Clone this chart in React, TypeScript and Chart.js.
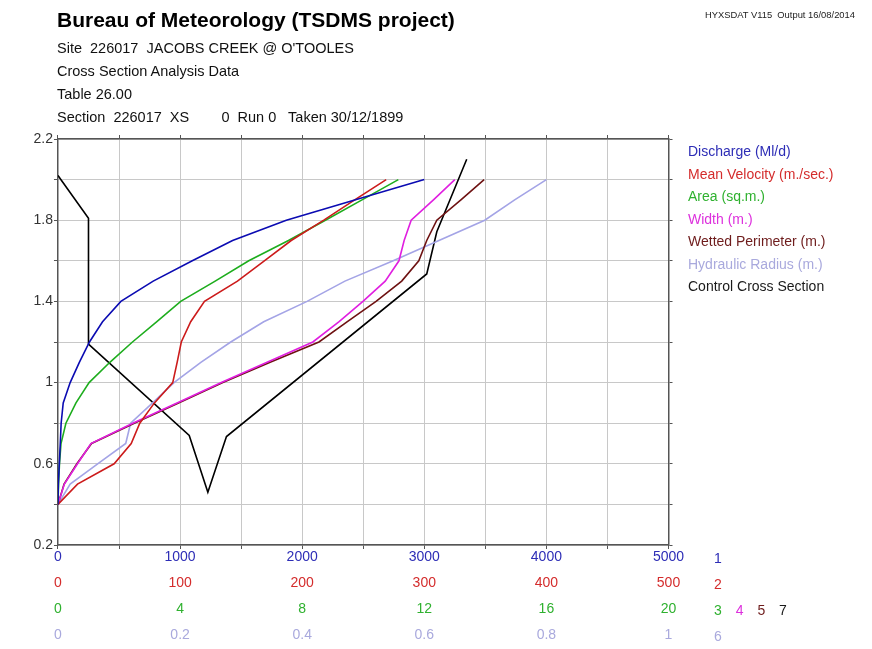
import React, { useEffect, useRef } from "react";
import { Chart, registerables } from "chart.js";

Chart.register(...registerables);

// Gauge height (stage, m) at which each rating quantity is tabulated
const stage = [0.4, 0.5, 0.6, 0.7, 0.8, 0.9, 1.0, 1.1, 1.2, 1.3, 1.4, 1.5, 1.6, 1.7, 1.8, 1.9, 2.0];

// 1 Discharge (Ml/d)
const discharge = [0, 3, 11, 19, 26, 43, 100, 175, 258, 365, 515, 780, 1100, 1430, 1870, 2430, 3000];
// 2 Mean Velocity (scale 0-500)
const meanVelocity = [0, 16, 46, 60, 67, 79, 94, 97.6, 101, 108.7, 120, 147, 169, 191, 217.7, 243, 268.8];
// 3 Area (sq.m.)
const area = [0, 0.02, 0.05, 0.1, 0.26, 0.59, 1.02, 1.7, 2.44, 3.24, 4.02, 5.15, 6.25, 7.55, 8.76, 9.96, 11.15];
// 4 Width (m.)
const widthM = [0, 0.21, 0.64, 1.08, 2.45, 3.9, 5.35, 6.85, 8.35, 9.21, 9.99, 10.72, 11.17, 11.34, 11.57, 12.3, 13.0];
// 5 Wetted Perimeter (m.)
const wettedPerimeter = [0, 0.2, 0.62, 1.1, 2.5, 3.95, 5.4, 6.95, 8.55, 9.48, 10.42, 11.26, 11.82, 12.08, 12.41, 13.2, 13.96];
// 6 Hydraulic Radius (m.)
const hydraulicRadius = [0, 0.02, 0.065, 0.111, 0.119, 0.155, 0.19, 0.234, 0.283, 0.337, 0.408, 0.47, 0.549, 0.624, 0.699, 0.748, 0.8];
// 7 Control Cross Section (chainage on scale 3, level on stage axis)
const controlChainage = [0, 1.0, 1.0, 4.3, 4.91, 5.52, 12.08, 12.41, 13.39];
const controlLevel = [2.02, 1.81, 1.19, 0.74, 0.46, 0.734, 1.535, 1.743, 2.1];

// Axis tick labels
const dischargeTicks = [0, 1000, 2000, 3000, 4000, 5000];
const velocityTicks = [0, 100, 200, 300, 400, 500];
const areaTicks = [0, 4, 8, 12, 16, 20];
const radiusTicks = [0, 0.2, 0.4, 0.6, 0.8, 1];
const stageTicks = [0.2, 0.6, 1, 1.4, 1.8, 2.2];

const seriesLabels = [
  "Discharge (Ml/d)",
  "Mean Velocity (m./sec.)",
  "Area (sq.m.)",
  "Width (m.)",
  "Wetted Perimeter (m.)",
  "Hydraulic Radius (m.)",
  "Control Cross Section",
];

const FONT = '"Liberation Sans", Arial, Helvetica, sans-serif';

const C = {
  blueLine: "#0b0bb2",
  blueText: "#2d2db6",
  redLine: "#cc1b1b",
  redText: "#d42c2c",
  greenLine: "#1ead1e",
  greenText: "#2fb12f",
  magentaLine: "#e01fe0",
  magentaText: "#dd30dd",
  brownLine: "#6e1212",
  brownText: "#6e1c1c",
  lavLine: "#a4a4e6",
  lavText: "#a9a9dd",
  black: "#000000",
  blackText: "#1a1a1a",
  grid: "#c8c8c8",
  axis: "#555555",
  yText: "#333333",
};

const legendColors = [C.blueText, C.redText, C.greenText, C.magentaText, C.brownText, C.lavText, C.blackText];

const axisMarkers: { axis: string; items: { text: string; color: string }[] }[] = [
  { axis: "x1", items: [{ text: "1", color: C.blueText }] },
  { axis: "x2", items: [{ text: "2", color: C.redText }] },
  {
    axis: "x3",
    items: [
      { text: "3", color: C.greenText },
      { text: "4", color: C.magentaText },
      { text: "5", color: C.brownText },
      { text: "7", color: C.blackText },
    ],
  },
  { axis: "x6", items: [{ text: "6", color: C.lavText }] },
];

const near = (list: number[], v: number) => list.some((t) => Math.abs(t - v) < 1e-6);
const fmt = (v: number) => String(Number(v.toFixed(4)));

const markerPlugin = {
  id: "axisMarkers",
  afterDraw(chart: any) {
    const ctx = chart.ctx;
    const area = chart.chartArea;
    ctx.save();
    ctx.font = `14px ${FONT}`;
    ctx.textAlign = "left";
    ctx.textBaseline = "middle";
    axisMarkers.forEach((m) => {
      const sc = chart.scales[m.axis];
      if (!sc) return;
      const g = sc.options.grid;
      const tl = g.drawTicks ? g.tickLength : 0;
      const y = sc.top + tl + sc.options.ticks.padding + 8.4 + 2;
      m.items.forEach((it, i) => {
        ctx.fillStyle = it.color;
        ctx.fillText(it.text, area.right + 45.5 + i * 21.7, y);
      });
    });
    ctx.restore();
  },
};

function App() {
  const ref = useRef<HTMLCanvasElement | null>(null);

  useEffect(() => {
    const canvas = ref.current;
    if (!canvas) return;
    const line = (label: string, xs: number[], ys: number[], color: string, xAxisID: string) => ({
      label,
      data: xs.map((x, i) => ({ x, y: ys[i] })),
      xAxisID,
      yAxisID: "y",
      showLine: true,
      borderColor: color,
      backgroundColor: color,
      borderWidth: 1.6,
      pointRadius: 0,
      pointHoverRadius: 0,
      fill: false,
      tension: 0,
    });

    const secondaryX = (min: number, max: number, step: number, list: number[], color: string, weight: number) => ({
      type: "linear",
      position: "bottom",
      weight,
      min,
      max,
      grid: { display: false, drawTicks: false, tickLength: 0 },
      border: { display: false },
      ticks: {
        stepSize: step,
        padding: 4.6,
        color,
        font: { family: FONT, size: 14 },
        autoSkip: false,
        maxRotation: 0,
        callback: (v: number) => (near(list, v) ? fmt(v) : ""),
      },
    });

    const chart = new Chart(canvas, {
      type: "scatter",
      data: {
        datasets: [
          line(seriesLabels[0], discharge, stage, C.blueLine, "x1"),
          line(seriesLabels[1], meanVelocity, stage, C.redLine, "x2"),
          line(seriesLabels[2], area, stage, C.greenLine, "x3"),
          line(seriesLabels[3], widthM, stage, C.magentaLine, "x3"),
          line(seriesLabels[4], wettedPerimeter, stage, C.brownLine, "x3"),
          line(seriesLabels[5], hydraulicRadius, stage, C.lavLine, "x6"),
          line(seriesLabels[6], controlChainage, controlLevel, C.black, "x3"),
        ] as any,
      },
      options: {
        animation: false,
        responsive: false,
        maintainAspectRatio: false,
        events: [],
        layout: { padding: { top: 135, left: 32.5, right: 28.5, bottom: 1 } },
        plugins: {
          tooltip: { enabled: false },
          title: { display: false },
          legend: {
            position: "right",
            align: "start",
            maxWidth: 320,
            title: { display: true, text: " ", font: { size: 2, lineHeight: 1 }, padding: 0 },
            labels: {
              boxWidth: 0,
              boxHeight: 14,
              padding: 8.5,
              font: { family: FONT, size: 14 },
              generateLabels: (ch: any) =>
                ch.data.datasets.map((ds: any, i: number) => ({
                  text: ds.label,
                  fontColor: legendColors[i],
                  fillStyle: "rgba(0,0,0,0)",
                  strokeStyle: "rgba(0,0,0,0)",
                  lineWidth: 0,
                  hidden: false,
                  datasetIndex: i,
                })),
            },
          },
        },
        scales: {
          y: {
            type: "linear",
            position: "left",
            min: 0.2,
            max: 2.2,
            grid: { color: C.grid, lineWidth: 1, tickColor: C.axis, tickLength: 4, drawTicks: true },
            border: { color: C.axis, width: 1.5 },
            ticks: {
              stepSize: 0.2,
              padding: 1,
              color: C.yText,
              font: { family: FONT, size: 14 },
              autoSkip: false,
              callback: (v: number) => (near(stageTicks, v) ? fmt(v) : ""),
            },
          },
          y2: {
            type: "linear",
            position: "right",
            min: 0.2,
            max: 2.2,
            grid: { drawOnChartArea: false, tickColor: C.axis, tickLength: 4, drawTicks: true },
            border: { color: C.axis, width: 1.5 },
            ticks: { stepSize: 0.2, display: false },
          },
          xTop: {
            type: "linear",
            position: "top",
            min: 0,
            max: 5000,
            grid: { drawOnChartArea: false, tickColor: C.axis, tickLength: 4, drawTicks: true },
            border: { color: C.axis, width: 1.5 },
            ticks: { stepSize: 500, display: false },
          },
          x1: {
            type: "linear",
            position: "bottom",
            weight: 0,
            min: dischargeTicks[0],
            max: dischargeTicks[dischargeTicks.length - 1],
            grid: { color: C.grid, lineWidth: 1, tickColor: C.axis, tickLength: 4, drawTicks: true },
            border: { color: C.axis, width: 1.5 },
            title: {
              display: true,
              text: " ",
              color: "rgba(0,0,0,0)",
              font: { size: 1, lineHeight: 1 },
              padding: { top: 3.2, bottom: 0 },
            },
            ticks: {
              stepSize: 500,
              padding: 0,
              color: C.blueText,
              font: { family: FONT, size: 14 },
              autoSkip: false,
              maxRotation: 0,
              callback: (v: number) => (near(dischargeTicks, v) ? fmt(v) : ""),
            },
          },
          x2: secondaryX(velocityTicks[0], velocityTicks[velocityTicks.length - 1], 100, velocityTicks, C.redText, 1),
          x3: secondaryX(areaTicks[0], areaTicks[areaTicks.length - 1], 4, areaTicks, C.greenText, 2),
          x6: secondaryX(radiusTicks[0], radiusTicks[radiusTicks.length - 1], 0.2, radiusTicks, C.lavText, 3),
        } as any,
      },
      plugins: [markerPlugin],
    } as any);
    return () => chart.destroy();
  }, []);

  const sub: React.CSSProperties = {
    position: "absolute",
    left: 57,
    fontFamily: FONT,
    fontSize: 14.5,
    lineHeight: "14.5px",
    color: "#111",
    whiteSpace: "pre",
  };

  return (
    <div style={{ position: "absolute", left: 0, top: 0, width: 872, height: 649, background: "#fff", overflow: "hidden" }}>
      <canvas ref={ref} width={872} height={649} style={{ position: "absolute", left: 0, top: 0, width: 872, height: 649 }} />
      <div
        style={{
          position: "absolute",
          left: 57,
          top: 9.2,
          fontFamily: FONT,
          fontWeight: "bold",
          fontSize: 21,
          lineHeight: "21px",
          color: "#000",
          whiteSpace: "pre",
        }}
      >
        Bureau of Meteorology (TSDMS project)
      </div>
      <div style={{ ...sub, top: 41 }}>{"Site  226017  JACOBS CREEK @ O'TOOLES"}</div>
      <div style={{ ...sub, top: 64 }}>Cross Section Analysis Data</div>
      <div style={{ ...sub, top: 87 }}>Table 26.00</div>
      <div style={{ ...sub, top: 110 }}>{"Section  226017  XS        0  Run 0   Taken 30/12/1899"}</div>
      <div
        style={{
          position: "absolute",
          right: 17,
          top: 9.5,
          fontFamily: FONT,
          fontSize: 9.4,
          lineHeight: "9.4px",
          color: "#222",
          whiteSpace: "pre",
        }}
      >
        {"HYXSDAT V115  Output 16/08/2014"}
      </div>
    </div>
  );
}

export default App;
